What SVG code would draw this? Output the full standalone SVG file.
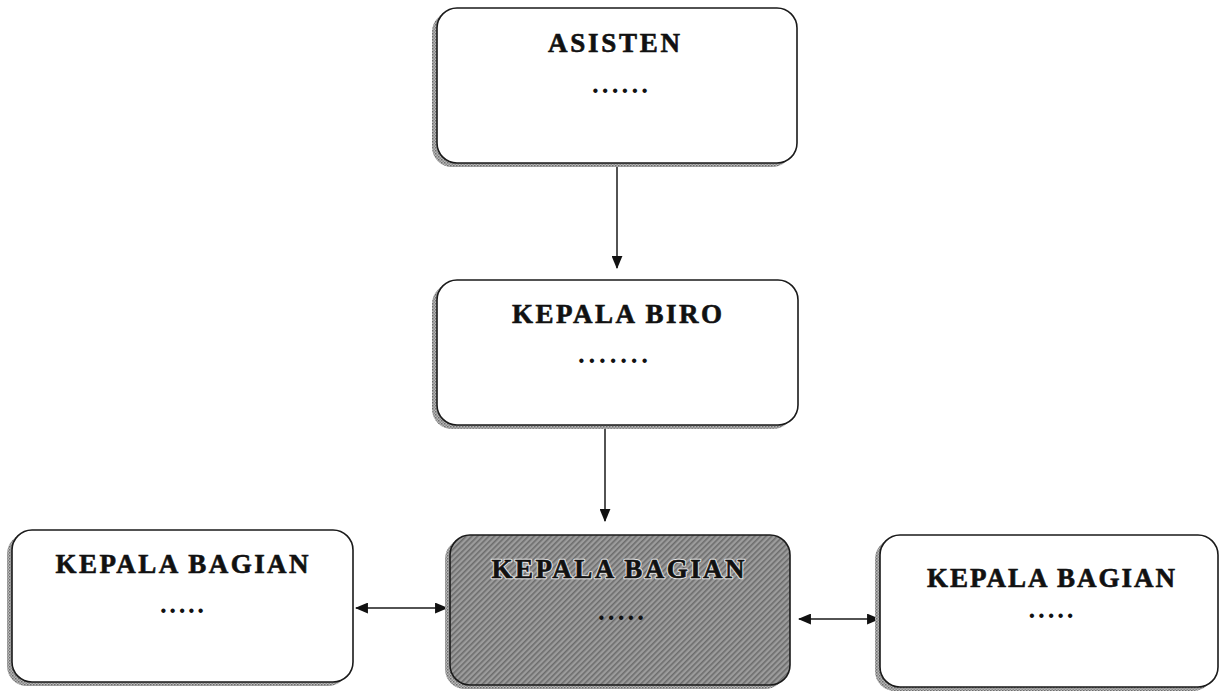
<svg xmlns="http://www.w3.org/2000/svg" width="1220" height="691" viewBox="0 0 1220 691">
  <style>
    .box { fill: #ffffff; stroke: #1a1a1a; stroke-width: 1.6; }
    .box-dark { fill: url(#hatch); stroke: #1a1a1a; stroke-width: 1.6; }
    .shadow { fill: url(#grain); stroke: none; }
    .title { font-family: "Liberation Serif", "DejaVu Serif", serif; font-weight: bold; font-size: 27px; fill: #111111; stroke: #111111; stroke-width: 0.6; text-anchor: middle; }
    .dots { font-family: "Liberation Serif", "DejaVu Serif", serif; font-weight: bold; font-size: 27px; fill: #111111; text-anchor: middle; }
    .halo { stroke: #e6e6e6; stroke-width: 2.6; stroke-linejoin: round; }
    .link { fill: none; stroke: #1a1a1a; stroke-width: 1.5; }
  </style>
  <defs>
    <!-- speckled grey used for the drop shadows -->
    <pattern id="grain" width="3" height="3" patternUnits="userSpaceOnUse">
      <rect width="3" height="3" fill="#b8b8b8"/>
      <rect width="1.5" height="1.5" fill="#6e6e6e"/>
      <rect x="1.5" y="1.5" width="1.5" height="1.5" fill="#8a8a8a"/>
    </pattern>
    <!-- diagonal hatching for the highlighted unit -->
    <pattern id="hatch" width="4" height="4" patternUnits="userSpaceOnUse" patternTransform="rotate(-45)">
      <rect width="4" height="4" fill="#9c9c9c"/>
      <rect width="4" height="1.6" fill="#6c6c6c"/>
    </pattern>
    <marker id="head" viewBox="0 0 12 10" refX="11" refY="5" markerWidth="13" markerHeight="11" markerUnits="userSpaceOnUse" orient="auto-start-reverse">
      <path d="M0,0 L12,5 L0,10 Z" fill="#111111"/>
    </marker>
  </defs>

  <g id="connectors">
    <line class="link" x1="617" y1="165" x2="617" y2="268" marker-end="url(#head)"/>
    <line class="link" x1="605" y1="428" x2="605" y2="521" marker-end="url(#head)"/>
    <line class="link" x1="356" y1="608" x2="447" y2="608" marker-start="url(#head)" marker-end="url(#head)"/>
    <line class="link" x1="799" y1="619" x2="879" y2="619" marker-start="url(#head)" marker-end="url(#head)"/>
  </g>

  <g id="asisten">
    <rect class="shadow" x="432" y="12" width="360" height="155" rx="20"/>
    <rect class="box" x="437" y="8" width="360" height="155" rx="20"/>
    <text class="title" x="614" y="52" textLength="132" lengthAdjust="spacing">ASISTEN</text>
    <text class="dots" x="620" y="93" textLength="56" lengthAdjust="spacing">......</text>
  </g>

  <g id="kepala-biro">
    <rect class="shadow" x="432" y="284" width="361" height="145" rx="20"/>
    <rect class="box" x="437" y="280" width="361" height="145" rx="20"/>
    <text class="title" x="617" y="323" textLength="210" lengthAdjust="spacing">KEPALA BIRO</text>
    <text class="dots" x="613" y="363" textLength="70" lengthAdjust="spacing">.......</text>
  </g>

  <g id="kepala-bagian-kiri">
    <rect class="shadow" x="7" y="534" width="341" height="152" rx="20"/>
    <rect class="box" x="12" y="530" width="341" height="152" rx="20"/>
    <text class="title" x="182" y="573" textLength="253" lengthAdjust="spacing">KEPALA BAGIAN</text>
    <text class="dots" x="182" y="613" textLength="44" lengthAdjust="spacing">.....</text>
  </g>

  <g id="kepala-bagian-tengah">
    <rect class="shadow" x="445" y="539" width="340" height="150" rx="20"/>
    <rect class="box-dark" x="450" y="535" width="340" height="150" rx="20"/>
    <text class="title halo" x="618" y="578" textLength="253" lengthAdjust="spacing">KEPALA BAGIAN</text>
    <text class="title" x="618" y="578" textLength="253" lengthAdjust="spacing">KEPALA BAGIAN</text>
    <text class="dots" x="621" y="620" textLength="46" lengthAdjust="spacing">.....</text>
  </g>

  <g id="kepala-bagian-kanan">
    <rect class="shadow" x="875" y="539" width="338" height="152" rx="20"/>
    <rect class="box" x="880" y="535" width="338" height="152" rx="20"/>
    <text class="title" x="1051" y="587" textLength="248" lengthAdjust="spacing">KEPALA BAGIAN</text>
    <text class="dots" x="1051" y="618" textLength="45" lengthAdjust="spacing">.....</text>
  </g>
</svg>
